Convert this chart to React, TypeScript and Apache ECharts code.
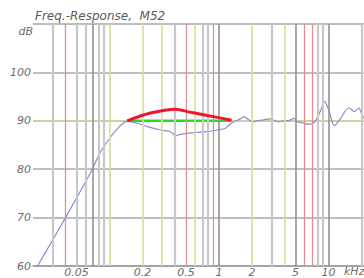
import React, { useEffect, useRef } from "react";
import * as echarts from "echarts";

// Frequency response (kHz, dB)
const measFreq = [0.022, 0.0289, 0.0396, 0.0543, 0.0695, 0.0828, 0.102, 0.1216, 0.145, 0.179, 0.221, 0.292, 0.361, 0.401, 0.445, 0.589, 0.78, 0.963, 1.146, 1.23, 1.365, 1.57, 1.68, 1.87, 2.05, 2.23, 2.57, 2.95, 3.4, 3.91, 4.4, 4.82, 5.17, 5.8, 6.39, 7.1, 7.88, 8.6, 9.19, 10.07, 11.35, 12.88, 15.3, 17.3, 18.9, 20.3, 21.0];
const measDb = [60, 64.6, 70, 75.5, 80, 83.6, 86.6, 88.7, 89.9, 89.5, 88.8, 88.1, 87.75, 86.9, 87.2, 87.55, 87.75, 88.1, 88.45, 89.1, 89.8, 90.4, 90.85, 90.2, 89.8, 90.0, 90.2, 90.4, 89.8, 90.0, 90.1, 90.5, 89.8, 89.6, 89.3, 89.4, 90.5, 92.5, 94.0, 92.2, 89.0, 90.5, 92.7, 91.9, 92.6, 91.2, 90.5];

const redFreq = [0.145, 0.2366, 0.401, 0.513, 0.78, 1.19, 1.3];
const redDb = [90, 91.6, 92.4, 91.9, 91.1, 90.3, 90.1];

const greenFreq = [0.145, 1.3];
const greenDb = [90, 90];

// Vertical grid lines (kHz) and their kind: G gray, D dark, R red, Y yellow
const gridFreq = [0.02, 0.03, 0.04, 0.05, 0.06, 0.07, 0.08, 0.09, 0.1, 0.2, 0.3, 0.4, 0.5, 0.6, 0.7, 0.8, 0.9, 1, 2, 3, 4, 5, 6, 7, 8, 9, 10, 20];
const gridKind = ["Y", "G", "R", "G", "G", "D", "G", "G", "Y", "Y", "Y", "G", "R", "Y", "G", "G", "R", "D", "Y", "G", "Y", "D", "R", "R", "G", "G", "D", "G"];

const xTickLabels = ["0.05", "0.2", "0.5", "1", "2", "5", "10"];
const xTickValues = [0.05, 0.2, 0.5, 1, 2, 5, 10];
const yTickValues = [60, 70, 80, 90, 100];

const X_MIN_KHZ = 0.02;
const X_MAX_KHZ = 21.1;

const kindStyle: Record<string, { color: string; width: number }> = {
  G: { color: "#c8c8c8", width: 2.2 },
  D: { color: "#929292", width: 1.6 },
  R: { color: "#d89494", width: 1.3 },
  Y: { color: "#dfdb9e", width: 1.7 },
};

const lg = (v: number) => Math.log10(v);
const FONT = "DejaVu Sans";

export default function App() {
  const ref = useRef<HTMLDivElement>(null);
  useEffect(() => {
    if (!ref.current) return;
    const chart = echarts.init(ref.current, null, { renderer: "svg" });
    const labelStyle = {
      fontFamily: FONT,
      fontStyle: "italic" as const,
      fontSize: 11,
      color: "#6c6c6c",
    };
    chart.setOption({
      animation: false,
      backgroundColor: "#ffffff",
      title: {
        text: "Freq.-Response,  M52",
        left: 35,
        top: 10,
        padding: 0,
        textStyle: { ...labelStyle, fontSize: 12, fontWeight: "normal", color: "#5a5a5a" },
      },
      grid: { left: 33, right: 0, top: 24, bottom: 12 },
      xAxis: {
        type: "value",
        min: lg(X_MIN_KHZ),
        max: lg(X_MAX_KHZ),
        axisLine: { show: true, lineStyle: { color: "#a4a4a4", width: 1.6 } },
        axisTick: { show: false },
        splitLine: { show: false },
        axisLabel: {
          ...labelStyle,
          margin: 1,
          customValues: xTickValues.map(lg),
          formatter: (v: number) => {
            let best = 0;
            let bd = Infinity;
            xTickValues.forEach((t, i) => {
              const d = Math.abs(lg(t) - v);
              if (d < bd) { bd = d; best = i; }
            });
            return xTickLabels[best];
          },
        },
      },
      yAxis: {
        type: "value",
        min: 60,
        max: 110,
        interval: 10,
        axisLine: { show: false },
        axisTick: { show: false },
        axisLabel: {
          ...labelStyle,
          margin: 2,
          formatter: (v: number) => (yTickValues.includes(v) ? String(v) : ""),
        },
        splitLine: {
          show: true,
          lineStyle: {
            color: ["#a4a4a4", "#bebebe", "#bebebe", "#d2cf9e", "#bebebe", "#bdbdbd"],
            width: 1.8,
          },
        },
      },
      graphic: [
        {
          type: "text",
          right: 364 - 33,
          top: 26,
          style: { text: "dB", fill: "#6c6c6c", font: `italic 11px ${FONT}` },
        },
        {
          type: "text",
          left: 344,
          top: 266,
          style: { text: "kHz", fill: "#6c6c6c", font: `italic 11px ${FONT}` },
        },
      ],
      series: [
        {
          type: "line",
          data: [],
          z: 1,
          silent: true,
          markLine: {
            silent: true,
            symbol: ["none", "none"],
            label: { show: false },
            data: gridFreq.map((f, i) => ({
              xAxis: lg(f),
              lineStyle: {
                type: "solid",
                color: kindStyle[gridKind[i]].color,
                width: kindStyle[gridKind[i]].width,
              },
            })),
          },
        },
        {
          type: "line",
          z: 3,
          showSymbol: false,
          smooth: 0.3,
          lineStyle: { color: "#8c8ad0", width: 1.2 },
          data: measFreq.map((f, i) => [lg(f), measDb[i]]),
        },
        {
          type: "line",
          z: 4,
          showSymbol: false,
          lineStyle: { color: "#22dd22", width: 2.5 },
          data: greenFreq.map((f, i) => [lg(f), greenDb[i]]),
        },
        {
          type: "line",
          z: 5,
          showSymbol: false,
          smooth: 0.3,
          lineStyle: { color: "#f0142c", width: 3 },
          data: redFreq.map((f, i) => [lg(f), redDb[i]]),
        },
      ],
    });
    return () => chart.dispose();
  }, []);
  return (
    <div
      ref={ref}
      style={{ position: "absolute", left: 0, top: 0, width: 364, height: 278 }}
    />
  );
}
